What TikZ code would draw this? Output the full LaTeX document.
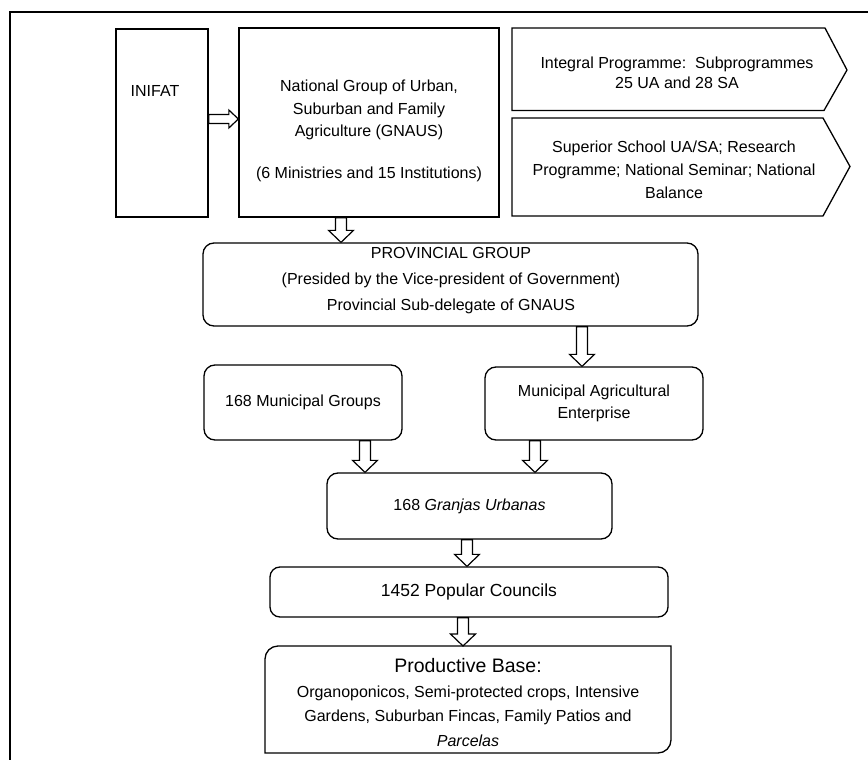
\documentclass[tikz,border=0pt]{standalone}
\usepackage{fontspec}
\setmainfont{Liberation Sans}
\usetikzlibrary{calc}
\tikzset{
  box/.style={draw, line width=1.3pt, inner sep=0pt, align=center,
    font=\fontsize{16}{22}\selectfont},
  rbox/.style={box, rounded corners=11pt},
  txt/.style={align=center, inner sep=0pt, font=\fontsize{16}{22}\selectfont},
  arr/.style={draw, line width=1.2pt, fill=white, line join=miter},
  frameline/.style={draw, line width=1.3pt}
}
\newcommand\bdown[2]{\path[arr] let \p1=(#1), \p2=(#2) in
  (\x1-5.5pt,\y1) -- (\x1+5.5pt,\y1) -- (\x1+5.5pt,\y2+12pt) -- (\x1+12.5pt,\y2+12pt)
  -- (\x1,\y2) -- (\x1-12.5pt,\y2+12pt) -- (\x1-5.5pt,\y2+12pt) -- cycle;}
\newcommand\bright[2]{\path[arr] let \p1=(#1), \p2=(#2) in
  (\x1,\y1+4.5pt) -- (\x1,\y1-4.5pt) -- (\x2-9.5pt,\y1-4.5pt) -- (\x2-9.5pt,\y1-9pt)
  -- (\x2,\y1) -- (\x2-9.5pt,\y1+9pt) -- (\x2-9.5pt,\y1+4.5pt) -- cycle;}
\begin{document}
\begin{tikzpicture}[x=1pt,y=-1pt]
\useasboundingbox (0,0) rectangle (868,760);
\fill[white] (0,0) rectangle (868,760);
% outer frame (top and left edges)
\path[frameline] (868,12) -- (10,12) -- (10,760);

% top row
\node[box, minimum width=92pt, minimum height=188pt] (inifat) at (162,123) {};
\node[txt, anchor=base] (inifattext) at (155,96) {INIFAT};
\node[box, minimum width=260pt, minimum height=189pt] (gnaus) at (369,122.5) {};
\node[txt, anchor=base] (gnaus1) at (369,92) {National Group of Urban,};
\node[txt, anchor=base] (gnaus2) at (369,114) {Suburban and Family};
\node[txt, anchor=base] (gnaus3) at (369,136) {Agriculture (GNAUS)};
\node[txt, anchor=base] (gnaus4) at (369,178) {(6 Ministries and 15 Institutions)};

\path[frameline] (512,28) -- (825,28) -- (847,70) -- (824,110.5) -- (512,110.5) -- cycle;
\node[txt, font=\fontsize{16}{20}\selectfont] (integral) at (677,73) {Integral Programme:\ \ Subprogrammes\\ 25 UA and 28 SA};
\path[frameline] (512,118) -- (823,118) -- (850,166.5) -- (823,216) -- (512,216) -- cycle;
\node[txt, font=\fontsize{16}{23}\selectfont] (school) at (674,170) {Superior School UA/SA; Research\\ Programme; National\ Seminar; National\\ Balance};

% provincial
\node[rbox, minimum width=495pt, minimum height=83pt] (prov) at (450.5,284.5) {};
\node[txt, font=\fontsize{16}{26}\selectfont] (provtext) at (451,281) {PROVINCIAL GROUP\\ (Presided by the Vice-president of Government)\\ Provincial Sub-delegate of GNAUS};

% municipal
\node[rbox, minimum width=198pt, minimum height=75pt] (mg) at (303,402.5) {168 Municipal Groups};
\node[rbox, minimum width=218pt, minimum height=73pt] (mae) at (594,403.5) {Municipal Agricultural\\ Enterprise};

% granjas
\node[rbox, minimum width=285pt, minimum height=66pt] (granjas) at (469.5,506) {168 \textit{Granjas Urbanas}};

% councils
\node[rbox, rounded corners=10pt, minimum width=398pt, minimum height=50pt,
  font=\fontsize{17.5}{22}\selectfont] (councils) at (469,592) {1452 Popular Councils};

% productive base: diagonal rounded corners
\coordinate (pbnw) at (265,646);
\coordinate (pbse) at (671,753);
\path[frameline] (265,753) -- (265,659) arc[start angle=180, end angle=270, radius=13]
  -- (671,646) -- (671,740) arc[start angle=0, end angle=90, radius=13] -- cycle;
\node[txt, font=\fontsize{16}{24.5}\selectfont] (base) at (468,702.5) {{\fontsize{19.5}{24.5}\selectfont Productive Base:}\\ Organoponicos, Semi-protected crops, Intensive\\ Gardens, Suburban Fincas, Family Patios and\\ \textit{Parcelas}};

% arrows
\bright{inifat.east |- 0,119}{gnaus.west |- 0,119}
\bdown{gnaus.south -| 341,0}{prov.north -| 341,0}
\bdown{prov.south -| 582,0}{mae.north -| 582,0}
\bdown{mg.south -| 365,0}{granjas.north -| 365,0}
\bdown{mae.south -| 535,0}{granjas.north -| 535,0}
\bdown{granjas.south -| 467,0}{councils.north -| 467,0}
\bdown{councils.south -| 463,0}{pbnw -| 463,0}
\end{tikzpicture}
\end{document}
